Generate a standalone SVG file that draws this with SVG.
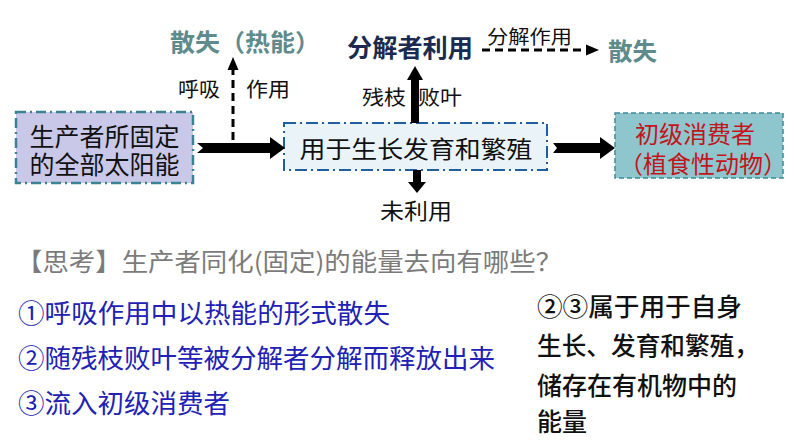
<svg xmlns="http://www.w3.org/2000/svg" width="794" height="447" viewBox="0 0 794 447">
<style>
text{font-family:"Noto Sans CJK SC","Noto Sans",sans-serif;}
.lbl{font-size:20px;fill:#111;}
.teal{font-size:24px;font-weight:bold;fill:#5e8b8b;}
.blue{font-size:26px;fill:#2121b4;}
.blk{font-size:25px;fill:#111;font-weight:500;}
.arr{fill:#000;}
.dash{stroke:#000;stroke-width:3;stroke-dasharray:8 5;fill:none;}
</style>
<rect width="794" height="447" fill="#fff"/>
<g id="node-producer">
<rect x="16" y="112" width="177" height="71" fill="#c9c8e8" stroke="#3b8394" stroke-width="2.5" stroke-dasharray="10 4 2 4"/>
<text font-size="25" text-anchor="middle" fill="#111"><tspan x="104.5" y="146">生产者所固定</tspan><tspan x="104.5" y="174">的全部太阳能</tspan></text>
</g>
<g id="node-growth">
<rect x="284" y="123" width="263" height="47" fill="#eaf4f8" stroke="#1f5fa0" stroke-width="2" stroke-dasharray="12 4 2 4"/>
<text x="416" y="158" font-size="24" text-anchor="middle" fill="#111" textLength="233" lengthAdjust="spacingAndGlyphs">用于生长发育和繁殖</text>
</g>
<g id="node-consumer">
<rect x="615" y="113" width="168" height="65" fill="#8fc5cd" stroke="#3a8b9b" stroke-width="1.5" stroke-dasharray="5 3"/>
<text font-size="24" fill="#c0161c"><tspan x="635" y="143">初级消费者</tspan><tspan x="619" y="173">（植食性动物）</tspan></text>
</g>
<g id="node-heat">
<text x="170" y="51" class="teal" textLength="150" lengthAdjust="spacingAndGlyphs">散失（热能）</text>
</g>
<g id="node-decomposer">
<text x="347" y="57" font-size="25" font-weight="bold" fill="#1b2a4e" textLength="126" lengthAdjust="spacingAndGlyphs">分解者利用</text>
</g>
<g id="node-lost">
<text x="608" y="60" class="teal" textLength="49" lengthAdjust="spacingAndGlyphs">散失</text>
</g>
<g id="node-unused">
<text x="380" y="219" font-size="22" fill="#111" textLength="72" lengthAdjust="spacingAndGlyphs">未利用</text>
</g>
<g id="connectors">
<polygon class="arr" points="197,143 270,143 270,137 285,148 270,159 270,153 197,153 203,148"/>
<line class="dash" x1="233" y1="140" x2="233" y2="70"/>
<polygon class="arr" points="227.5,70 238.5,70 233,57"/>
<text x="178" y="97" class="lbl" textLength="42" lengthAdjust="spacingAndGlyphs">呼吸</text>
<text x="246" y="97" class="lbl" textLength="44" lengthAdjust="spacingAndGlyphs">作用</text>
<rect class="arr" x="411" y="80" width="8" height="43"/>
<polygon class="arr" points="407,80 423,80 415,66"/>
<text x="362" y="105" class="lbl" textLength="44" lengthAdjust="spacingAndGlyphs">残枝</text>
<text x="418" y="105" class="lbl" textLength="44" lengthAdjust="spacingAndGlyphs">败叶</text>
<line class="dash" x1="482" y1="50" x2="588" y2="50"/>
<polygon class="arr" points="586,44.5 586,55.5 599,50"/>
<text x="487" y="44" font-size="19" fill="#111" textLength="85" lengthAdjust="spacingAndGlyphs">分解作用</text>
<rect class="arr" x="413" y="170" width="8" height="12"/>
<polygon class="arr" points="408,182 426,182 417,193"/>
<polygon class="arr" points="553,143 600,143 600,137 615,148 600,159 600,153 553,153 557,148"/>
</g>
<text x="16" y="271" font-size="25" fill="#7b7b7b" textLength="546" lengthAdjust="spacingAndGlyphs">【思考】生产者同化(固定)的能量去向有哪些？</text>
<text x="18" y="323" class="blue" textLength="372" lengthAdjust="spacingAndGlyphs">①呼吸作用中以热能的形式散失</text>
<text x="18" y="368" class="blue" textLength="477" lengthAdjust="spacingAndGlyphs">②随残枝败叶等被分解者分解而释放出来</text>
<text x="18" y="413" class="blue" textLength="212" lengthAdjust="spacingAndGlyphs">③流入初级消费者</text>
<text x="537" y="316" class="blk" textLength="205" lengthAdjust="spacingAndGlyphs">②③属于用于自身</text>
<text x="537" y="355" class="blk" textLength="222" lengthAdjust="spacingAndGlyphs">生长、发育和繁殖，</text>
<text x="537" y="395" class="blk" textLength="200" lengthAdjust="spacingAndGlyphs">储存在有机物中的</text>
<text x="537" y="431" class="blk" textLength="50" lengthAdjust="spacingAndGlyphs">能量</text>
</svg>
